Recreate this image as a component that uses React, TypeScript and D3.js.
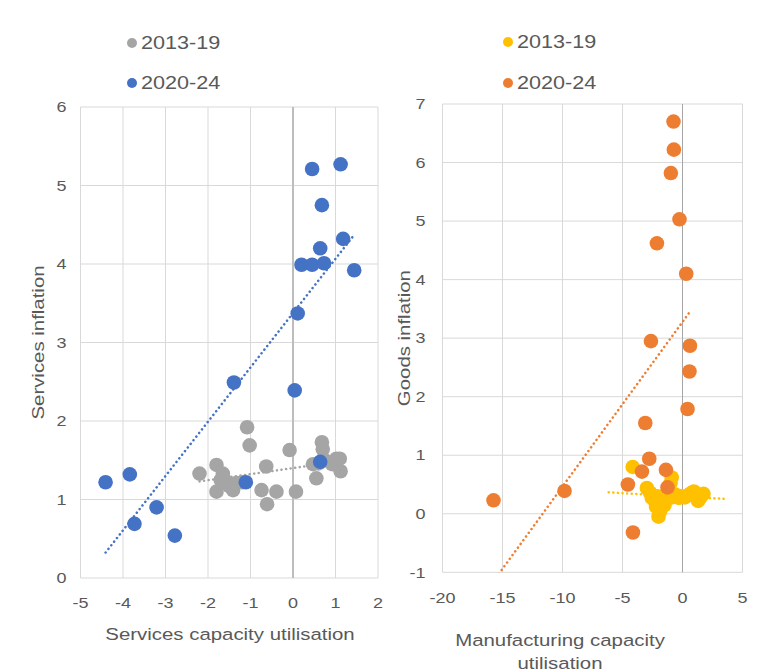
import React from "react";
import * as d3 from "d3";

// Services: capacity utilisation (x) vs services inflation (y)
const services2013: [number, number][] = [
  [-2.2, 1.33], [-1.8, 1.44], [-1.65, 1.33], [-1.57, 1.23], [-1.8, 1.1],
  [-1.41, 1.12], [-1.33, 1.21], [-1.5, 1.17], [-1.08, 1.92], [-1.02, 1.69],
  [-0.63, 1.42], [-0.74, 1.12], [-0.39, 1.1], [-0.61, 0.94], [0.07, 1.1],
  [-0.08, 1.63], [0.68, 1.73], [0.7, 1.64], [1.02, 1.52], [1.12, 1.36],
  [0.55, 1.27], [0.92, 1.45], [0.47, 1.45], [0.75, 1.5], [1.1, 1.52],
  [-1.7, 1.25], [-1.2, 1.22], [0.6, 1.46],
];
const services2020: [number, number][] = [
  [0.45, 5.21], [1.12, 5.27], [0.68, 4.75], [1.18, 4.32], [0.64, 4.2],
  [0.2, 3.99], [0.45, 3.99], [0.73, 4.01], [1.44, 3.92], [0.11, 3.37],
  [-1.39, 2.49], [0.04, 2.39], [-4.41, 1.22], [-3.84, 1.32], [-3.21, 0.9],
  [-3.73, 0.69], [-2.78, 0.54], [-1.11, 1.22], [0.64, 1.48],
];

// Goods: manufacturing capacity utilisation (x) vs goods inflation (y)
const goods2013: [number, number][] = [
  [-4.15, 0.8], [-0.9, 0.62], [-1.0, 0.52], [-2.97, 0.44], [-2.7, 0.36],
  [-2.56, 0.27], [-2.3, 0.22], [-2.1, 0.3], [-1.87, 0.2], [-1.6, 0.3],
  [-1.4, 0.25], [-1.2, 0.35], [-0.9, 0.28], [-0.6, 0.33], [-0.3, 0.27],
  [-0.1, 0.3], [0.2, 0.28], [0.5, 0.32], [0.7, 0.35], [0.95, 0.38],
  [1.1, 0.3], [1.3, 0.22], [1.5, 0.28], [1.75, 0.34], [-2.0, -0.05],
  [-1.85, 0.05], [-2.2, 0.12], [-1.5, 0.15],
];
const goods2020: [number, number][] = [
  [-0.75, 6.7], [-0.72, 6.22], [-0.97, 5.82], [-0.25, 5.03], [-2.13, 4.62],
  [0.31, 4.1], [-2.63, 2.95], [0.62, 2.87], [0.58, 2.43], [0.42, 1.79],
  [-3.1, 1.55], [-2.77, 0.94], [-1.38, 0.75], [-3.38, 0.72], [-4.55, 0.5],
  [-1.25, 0.45], [-9.83, 0.39], [-15.75, 0.23], [-4.13, -0.32],
];

const seriesNames = ["2013-19", "2020-24"];
const servicesXTicks = [-5, -4, -3, -2, -1, 0, 1, 2];
const servicesYTicks = [0, 1, 2, 3, 4, 5, 6];
const goodsXTicks = [-20, -15, -10, -5, 0, 5];
const goodsYTicks = [-1, 0, 1, 2, 3, 4, 5, 6, 7];
// trendline forward/backward forecast (x units) for the goods 2013-19 series
const goods2013TrendForecast = 2;

const FONT = "'Liberation Sans', Arial, sans-serif";
const TEXT = "#595959";
const GRID = "#d9d9d9";
const ZERO = "#a6a6a6";
const STRETCH = 1.2;

function regression(pts: [number, number][]) {
  const mx = d3.mean(pts, (p) => p[0])!;
  const my = d3.mean(pts, (p) => p[1])!;
  const sxy = d3.sum(pts, (p) => (p[0] - mx) * (p[1] - my));
  const sxx = d3.sum(pts, (p) => (p[0] - mx) ** 2);
  const slope = sxy / sxx;
  return { slope, intercept: my - slope * mx };
}

// Text drawn slightly widened along its baseline
function Label(props: { x: number; y: number; size: number; anchor?: string; rotate?: number; children: React.ReactNode }) {
  const { x, y, size, anchor = "start", rotate = 0 } = props;
  return (
    <text transform={`translate(${x},${y}) rotate(${rotate}) scale(${STRETCH},1)`}
      textAnchor={anchor} dy="0.35em" fontFamily={FONT} fontSize={size} fill={TEXT}>
      {props.children}
    </text>
  );
}

type Series = { name: string; data: [number, number][]; color: string; extend?: number };

function Panel(props: {
  left: number; right: number; top: number; bottom: number;
  xTicks: number[]; yTicks: number[];
  series: Series[];
  tickGap: number;
  yTitle: string; yTitleX: number;
  xTitle: string[]; xTitleX: number; xTitleY: number;
  legendX: number; legendY: number[];
  clipId: string;
}) {
  const { left, right, top, bottom, xTicks, yTicks, series } = props;
  const x = d3.scaleLinear().domain(d3.extent(xTicks) as [number, number]).range([left, right]);
  const y = d3.scaleLinear().domain(d3.extent(yTicks) as [number, number]).range([bottom, top]);
  const midY = (top + bottom) / 2;

  return (
    <g>
      <defs>
        <clipPath id={props.clipId}>
          <rect x={left} y={top} width={right - left} height={bottom - top} />
        </clipPath>
      </defs>
      {xTicks.map((t) => (
        <line key={"gx" + t} x1={x(t)} x2={x(t)} y1={top} y2={bottom}
          stroke={t === 0 ? ZERO : GRID} strokeWidth={1} />
      ))}
      {yTicks.map((t) => (
        <line key={"gy" + t} x1={left} x2={right} y1={y(t)} y2={y(t)} stroke={GRID} strokeWidth={1} />
      ))}
      {xTicks.filter((t) => t === 0).map((t) => (
        <line key="zero" x1={x(t)} x2={x(t)} y1={top} y2={bottom} stroke={ZERO} strokeWidth={1} />
      ))}
      {yTicks.map((t) => (
        <Label key={"ty" + t} x={left - props.tickGap} y={y(t)} size={15} anchor="end">{t}</Label>
      ))}
      {xTicks.map((t) => (
        <Label key={"tx" + t} x={x(t)} y={bottom + 25} size={15} anchor="middle">{t}</Label>
      ))}
      <Label x={props.yTitleX} y={midY} size={17} anchor="middle" rotate={-90}>{props.yTitle}</Label>
      {props.xTitle.map((line, i) => (
        <Label key={line} x={props.xTitleX} y={props.xTitleY + i * 23} size={17} anchor="middle">{line}</Label>
      ))}
      <g clipPath={`url(#${props.clipId})`}>
        {series.map((s) => {
          const { slope, intercept } = regression(s.data);
          const [x0, x1] = d3.extent(s.data, (p) => p[0]) as [number, number];
          const e = s.extend ?? 0;
          const xa = x0 - e, xb = x1 + e;
          return (
            <line key={"tr" + s.name} x1={x(xa)} y1={y(slope * xa + intercept)}
              x2={x(xb)} y2={y(slope * xb + intercept)} stroke={s.color}
              strokeWidth={2.5} strokeDasharray="0.1 4.5" strokeLinecap="round" />
          );
        })}
      </g>
      {series.map((s) => (
        <g key={"pts" + s.name}>
          {s.data.map((p, i) => (
            <circle key={i} cx={x(p[0])} cy={y(p[1])} r={7.3} fill={s.color} />
          ))}
        </g>
      ))}
      {series.map((s, i) => (
        <g key={"lg" + s.name}>
          <circle cx={props.legendX} cy={props.legendY[i]} r={5} fill={s.color} />
          <Label x={props.legendX + 9} y={props.legendY[i]} size={18}>{s.name}</Label>
        </g>
      ))}
    </g>
  );
}

export default function App() {
  return (
    <div style={{ position: "absolute", left: 0, top: 0 }}>
      <svg width={757} height={672} style={{ display: "block", background: "#fff" }}>
        <Panel left={80.5} right={378} top={107} bottom={578}
          xTicks={servicesXTicks} yTicks={servicesYTicks} tickGap={14}
          series={[
            { name: seriesNames[0], data: services2013, color: "#a5a5a5" },
            { name: seriesNames[1], data: services2020, color: "#4472c4" },
          ]}
          yTitle="Services inflation" yTitleX={38}
          xTitle={["Services capacity utilisation"]} xTitleX={230} xTitleY={634}
          legendX={132} legendY={[43, 83]} clipId="clip-services" />
        <Panel left={442.5} right={742.5} top={104} bottom={572.3}
          xTicks={goodsXTicks} yTicks={goodsYTicks} tickGap={17}
          series={[
            { name: seriesNames[0], data: goods2013, color: "#ffc000", extend: goods2013TrendForecast },
            { name: seriesNames[1], data: goods2020, color: "#ed7d31" },
          ]}
          yTitle="Goods inflation" yTitleX={404}
          xTitle={["Manufacturing capacity", "utilisation"]} xTitleX={560} xTitleY={640}
          legendX={508} legendY={[42, 83]} clipId="clip-goods" />
      </svg>
    </div>
  );
}
